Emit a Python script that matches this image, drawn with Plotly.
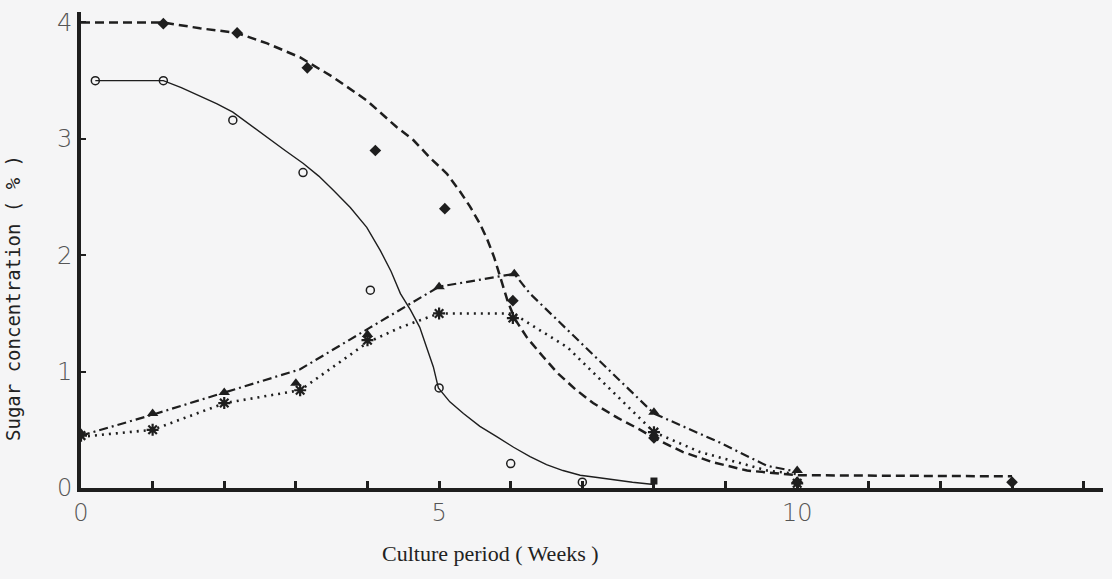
import plotly.graph_objects as go

# ---- data (weeks, %) ----
# Series A: filled diamonds, long-dashed fitted curve
a_mark_x = [1.15, 2.18, 3.16, 4.11, 5.08, 6.03, 8.0, 10.0, 13.0]
a_mark_y = [3.99, 3.91, 3.61, 2.90, 2.40, 1.61, 0.43, 0.05, 0.05]
a_curve_x = [0.0, 1.15, 1.66, 2.18, 2.60, 3.06, 3.52, 3.99, 4.41, 4.64, 4.87, 5.11, 5.29,
             5.43, 5.57, 5.67, 5.77, 5.87, 5.96, 6.06, 6.23, 6.45, 6.65, 6.90, 7.15, 7.50, 7.81,
             8.0, 8.40, 8.83, 9.30, 10.0, 13.0]
a_curve_y = [4.0, 4.0, 3.95, 3.91, 3.82, 3.70, 3.53, 3.33, 3.10, 2.99, 2.84, 2.70, 2.55,
             2.42, 2.27, 2.14, 1.98, 1.78, 1.60, 1.45, 1.29, 1.13, 0.99, 0.85, 0.73, 0.60, 0.50,
             0.43, 0.31, 0.22, 0.15, 0.11, 0.10]

# Series B: open circles, solid fitted curve
b_mark_x = [0.2, 1.15, 2.12, 3.1, 4.04, 5.0, 6.0, 7.0]
b_mark_y = [3.50, 3.50, 3.16, 2.71, 1.70, 0.86, 0.21, 0.05]
b_curve_x = [0.2, 1.15, 1.40, 1.66, 1.90, 2.12, 2.36, 2.60, 2.85, 3.10, 3.32, 3.52, 3.76,
             3.99, 4.18, 4.33, 4.46, 4.60, 4.73, 4.83, 4.92, 4.99, 5.15, 5.34, 5.57, 5.81,
             6.04, 6.27, 6.50, 6.73, 6.97, 7.21, 7.43, 7.70, 8.0]
b_curve_y = [3.50, 3.50, 3.44, 3.37, 3.30, 3.23, 3.12, 3.01, 2.90, 2.79, 2.68, 2.56, 2.41,
             2.24, 2.04, 1.86, 1.67, 1.53, 1.38, 1.20, 1.04, 0.86, 0.74, 0.64, 0.53, 0.44,
             0.35, 0.27, 0.20, 0.15, 0.11, 0.09, 0.07, 0.05, 0.03]

# Series C: filled triangles, dash-dot line
c_mark_x = [0.0, 1.0, 2.0, 3.0, 4.0, 5.0, 6.05, 8.0, 10.0]
c_mark_y = [0.47, 0.64, 0.82, 0.90, 1.32, 1.73, 1.84, 0.65, 0.15]
c_line_x = [0.0, 1.0, 2.0, 3.06, 4.04, 5.0, 6.05, 6.27, 6.79, 8.0, 8.92, 9.58, 10.0]
c_line_y = [0.45, 0.63, 0.82, 1.02, 1.38, 1.73, 1.84, 1.67, 1.36, 0.64, 0.39, 0.19, 0.14]

# Series D: asterisks, dotted line
d_mark_x = [0.0, 1.0, 2.0, 3.06, 4.0, 5.0, 6.03, 8.0, 10.0]
d_mark_y = [0.45, 0.50, 0.73, 0.84, 1.27, 1.50, 1.46, 0.48, 0.04]
d_line_x = [0.0, 1.0, 2.01, 3.06, 4.0, 4.46, 5.0, 6.03, 6.37, 6.79, 8.0, 8.64, 9.58, 10.0]
d_line_y = [0.44, 0.50, 0.73, 0.84, 1.25, 1.38, 1.50, 1.50, 1.37, 1.21, 0.48, 0.31, 0.15, 0.12]

# near-zero filled mark on the axis
z_mark_x = [8.0]
z_mark_y = [0.06]

x_tick_vals = [0, 5, 10]
x_tick_text = ["0", "5", "10"]
y_tick_vals = [0, 1, 2, 3, 4]
y_tick_text = ["0", "1", "2", "3", "4"]

INK = "#1e1e1e"
BG = "#f5f5f6"

fig = go.Figure()

fig.add_trace(go.Scatter(x=a_curve_x, y=a_curve_y, mode="lines",
                         line=dict(color=INK, width=2.5, dash="9px,5px"), hoverinfo="skip"))
fig.add_trace(go.Scatter(x=b_curve_x, y=b_curve_y, mode="lines",
                         line=dict(color=INK, width=1.4), hoverinfo="skip"))
fig.add_trace(go.Scatter(x=c_line_x, y=c_line_y, mode="lines",
                         line=dict(color=INK, width=2.2, dash="9px,4px,2px,4px"), hoverinfo="skip"))
fig.add_trace(go.Scatter(x=d_line_x, y=d_line_y, mode="lines",
                         line=dict(color=INK, width=2.6, dash="2px,5px"), hoverinfo="skip"))

fig.add_trace(go.Scatter(x=a_mark_x, y=a_mark_y, mode="markers",
                         marker=dict(symbol="diamond", size=9, color=INK)))
fig.add_trace(go.Scatter(x=b_mark_x, y=b_mark_y, mode="markers",
                         marker=dict(symbol="circle-open", size=8, color=INK, line=dict(width=1.5))))
fig.add_trace(go.Scatter(x=c_mark_x, y=c_mark_y, mode="markers",
                         marker=dict(symbol="triangle-up", size=10, color=INK)))
fig.add_trace(go.Scatter(x=d_mark_x, y=d_mark_y, mode="markers",
                         marker=dict(symbol="asterisk-open", size=10, color=INK, line=dict(width=2.2, color=INK))))
fig.add_trace(go.Scatter(x=z_mark_x, y=z_mark_y, mode="markers",
                         marker=dict(symbol="square", size=7, color=INK)))

fig.update_layout(
    width=1112, height=579,
    margin=dict(l=81, r=9, t=12, b=91),
    paper_bgcolor=BG, plot_bgcolor=BG,
    showlegend=False,
    font=dict(family="DejaVu Sans", color="#333333"),
    xaxis=dict(range=[0, 14.27], showgrid=False, zeroline=False,
               showline=True, linecolor=INK, linewidth=4,
               tickvals=x_tick_vals, ticktext=x_tick_text,
               ticks="inside", ticklen=7, tickwidth=3, tickcolor=INK,
               minor=dict(dtick=1, ticks="inside", ticklen=7, tickwidth=3, tickcolor=INK),
               tickfont=dict(family="DejaVu Sans", size=24, color="#555555", weight=200)),
    yaxis=dict(range=[0, 4.09], showgrid=False, zeroline=False,
               showline=True, linecolor=INK, linewidth=4,
               tickvals=y_tick_vals, ticktext=y_tick_text,
               ticks="inside", ticklen=5, tickwidth=2, tickcolor=INK,
               tickfont=dict(family="DejaVu Sans", size=24, color="#555555", weight=200)),
    annotations=[
        dict(text="Culture period ( Weeks )", xref="paper", yref="paper",
             x=(490 - 81) / 1022, y=-65 / 476, xanchor="center", yanchor="middle",
             showarrow=False, font=dict(family="Liberation Serif", size=22, color="#222222")),
        dict(text="Sugar concentration ( % )", xref="paper", yref="paper",
             x=-68 / 1022, y=(488 - 298) / 476, xanchor="center", yanchor="middle",
             textangle=-90, showarrow=False,
             font=dict(family="DejaVu Sans Mono", size=19, color="#222222")),
    ],
)

fig.write_html("out.html")
